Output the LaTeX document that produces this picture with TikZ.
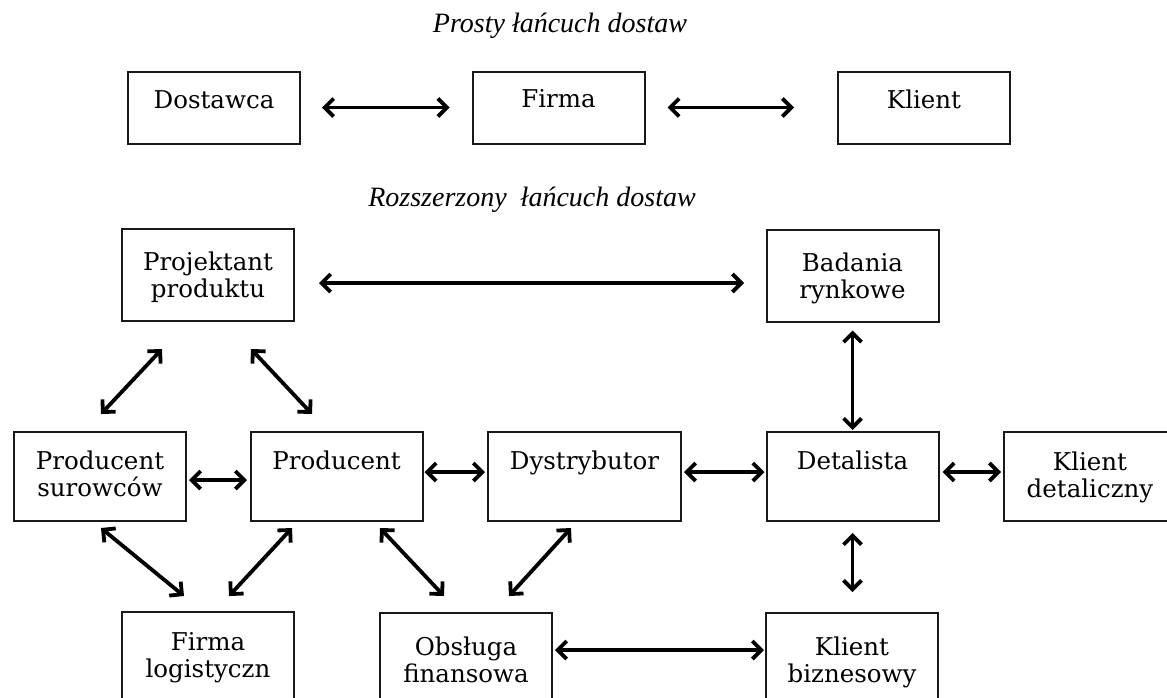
\documentclass[tikz,border=0pt]{standalone}
\usepackage{fontspec}
\setmainfont{DejaVu Serif}
\newfontfamily\titlefont{Liberation Serif}
\usetikzlibrary{arrows.meta,calc}
\begin{document}
\begin{tikzpicture}[x=1pt,y=-1pt,
  box/.style={draw=black!90, line width=2pt, minimum width=172pt, minimum height=89pt, inner sep=0pt},
  lab/.style={font=\fontsize{24.5}{27}\selectfont, align=center, anchor=north, inner sep=0pt, text=black},
  ttl/.style={font=\titlefont\itshape\fontsize{28}{30}\selectfont, inner sep=0pt},
  arr/.style={line width=3.8pt, {Straight Barb[length=9pt,width=18pt]}-{Straight Barb[length=9pt,width=18pt]}}]
\useasboundingbox (0,0) rectangle (1167,697);
\clip (0,0) rectangle (1167,697);

% titles
\node[ttl] (t1) at (560,26) {Prosty łańcuch dostaw};
\node[ttl] (t2) at (532,200) {Rozszerzony\ \ łańcuch dostaw};

% simple chain
\node[box, minimum height=72pt, label={[lab,yshift=-20pt]north:Dostawca}] (dost) at (214,107.5) {};
\node[box, minimum height=72pt, label={[lab,yshift=-19pt]north:Firma}] (firma) at (558.5,107.5) {};
\node[box, minimum height=72pt, label={[lab,yshift=-19pt]north:Klient}] (klient) at (924,107.5) {};

% extended chain
\node[box, minimum height=92pt, label={[lab,yshift=-24pt]north:{Projektant\\produktu}}] (proj) at (208,275) {};
\node[box, minimum height=92pt, label={[lab,yshift=-24pt]north:{Badania\\rynkowe}}] (bad) at (852.5,275.5) {};
\node[box, label={[lab,yshift=-20pt]north:{Producent\\surowców}}] (ps) at (100,476.5) {};
\node[box, label={[lab,yshift=-20pt]north:Producent}] (prod) at (336.5,476.5) {};
\node[box, minimum width=193pt, label={[lab,yshift=-20pt]north:Dystrybutor}] (dys) at (584.5,476.5) {};
\node[box, label={[lab,yshift=-20pt]north:Detalista}] (det) at (852.5,476.5) {};
\node[box, label={[lab,yshift=-21pt]north:{Klient\\detaliczny}}] (kd) at (1090,476.5) {};
\node[box, label={[lab,yshift=-21pt]north:{Firma\\logistyczn}}] (fl) at (208,656.5) {};
\node[box, label={[lab,yshift=-25pt]north:{Obsługa\\finansowa}}] (ob) at (466,657.5) {};
\node[box, label={[lab,yshift=-25pt]north:{Klient\\biznesowy}}] (kb) at (852,657.5) {};

% connectors
\draw[arr] ($(dost.east)+(21,0)$) -- ($(firma.west)+(-22,0)$);
\draw[arr] ($(firma.east)+(22,0)$) -- ($(klient.west)+(-43,0)$);
\draw[arr] ($(proj.east)+(24,8)$) -- ($(bad.west)+(-21.5,7.5)$);
\draw[arr] ($(proj.south west)+(41,27)$) -- ($(ps.north west)+(88,-17)$);
\draw[arr] ($(proj.south west)+(130,27)$) -- ($(prod.north west)+(62.5,-17)$);
\draw[arr] ($(bad.south)+(0,8)$) -- ($(det.north)+(0,-1)$);
\draw[arr] ($(ps.east)+(2,3.5)$) -- ($(prod.west)+(-2.5,3.5)$);
\draw[arr] ($(prod.east)+(1,-4.5)$) -- ($(dys.west)+(-2,-4.5)$);
\draw[arr] ($(dys.east)+(2,-4.5)$) -- ($(det.west)+(-1,-4.5)$);
\draw[arr] ($(det.east)+(3,-4.5)$) -- ($(kd.west)+(-2,-4.5)$);
\draw[arr] ($(ps.south west)+(88,6)$) -- ($(fl.north west)+(63,-15)$);
\draw[arr] ($(prod.south west)+(42.5,6)$) -- ($(fl.north west)+(108,-15)$);
\draw[arr] ($(prod.south west)+(130.5,6)$) -- ($(ob.north west)+(65,-16)$);
\draw[arr] ($(dys.south west)+(84,6)$) -- ($(ob.north west)+(130,-16)$);
\draw[arr] ($(ob.east)+(2,-7.5)$) -- ($(kb.west)+(-1,-7.5)$);
\draw[arr] ($(det.south)+(0,11)$) -- ($(kb.north)+(0.5,-20)$);
\end{tikzpicture}
\end{document}
